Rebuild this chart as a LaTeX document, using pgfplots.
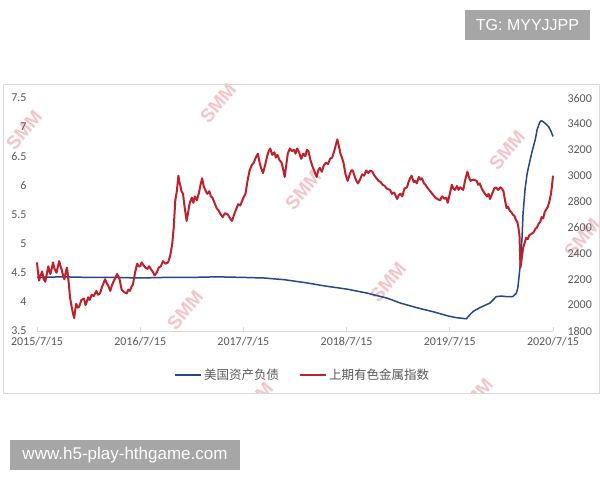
\documentclass[border=0pt]{standalone}
\usepackage{pgfplots}
\pgfplotsset{compat=1.18}
\usepackage{fontspec}
\setmainfont{Carlito}
\newfontfamily\cjk{Noto Sans CJK SC}
\newfontfamily\helv{Liberation Sans}
\definecolor{fedblue}{HTML}{24478A}
\definecolor{smmred}{HTML}{C0202A}
\definecolor{ticktext}{HTML}{595959}
\definecolor{axgray}{HTML}{D9D9D9}
\definecolor{boxgray}{HTML}{A6A6A6}
\definecolor{wm}{HTML}{F5C4CA}

\pgfplotstableread{
t v
0.00 4.42
0.25 4.43
0.50 4.42
0.75 4.42
1.00 4.41
1.25 4.42
1.50 4.42
1.74 4.43
2.00 4.42
2.20 4.41
2.40 4.38
2.60 4.33
2.80 4.27
3.00 4.22
3.20 4.15
3.40 4.06
3.52 3.98
3.68 3.90
3.84 3.83
3.98 3.76
4.06 3.73
4.16 3.71
4.20 3.79
4.23 3.84
4.29 3.90
4.39 3.98
4.45 4.09
4.50 4.10
4.55 4.09
4.61 4.09
4.645 4.15
4.66 4.25
4.68 4.59
4.70 5.10
4.71 5.52
4.73 5.95
4.75 6.21
4.78 6.45
4.80 6.60
4.83 6.80
4.845 6.95
4.87 7.08
4.885 7.11
4.90 7.10
4.92 7.07
4.94 7.04
4.96 7.00
4.98 6.93
5.00 6.84
}\fedtable

\pgfplotstableread{
t v
0.000 2330
0.010 2250
0.020 2190
0.035 2230
0.050 2260
0.065 2200
0.080 2180
0.095 2240
0.110 2300
0.120 2260
0.130 2240
0.145 2290
0.155 2330
0.170 2280
0.190 2250
0.200 2290
0.215 2340
0.228 2300
0.240 2270
0.252 2230
0.265 2200
0.278 2250
0.290 2290
0.300 2230
0.310 2150
0.320 2060
0.335 1990
0.350 1930
0.360 1900
0.370 1960
0.380 2010
0.395 1980
0.410 1990
0.430 2040
0.455 2050
0.470 2000
0.480 2020
0.495 2060
0.510 2040
0.530 2080
0.550 2070
0.575 2110
0.590 2080
0.610 2090
0.630 2140
0.650 2180
0.660 2200
0.675 2170
0.690 2150
0.710 2110
0.725 2150
0.740 2180
0.760 2210
0.775 2240
0.790 2220
0.800 2200
0.810 2160
0.820 2120
0.845 2100
0.870 2090
0.885 2120
0.900 2110
0.915 2140
0.930 2160
0.950 2250
0.970 2320
0.985 2300
1.000 2300
1.015 2330
1.030 2310
1.050 2290
1.070 2280
1.085 2300
1.095 2290
1.110 2270
1.120 2260
1.140 2230
1.160 2250
1.180 2290
1.200 2300
1.220 2340
1.245 2320
1.270 2330
1.290 2380
1.310 2470
1.325 2600
1.340 2810
1.355 2880
1.370 3000
1.380 2950
1.390 2920
1.400 2880
1.415 2860
1.430 2760
1.450 2650
1.465 2720
1.480 2790
1.500 2830
1.515 2790
1.530 2840
1.550 2810
1.570 2870
1.585 2930
1.600 2980
1.615 2920
1.630 2890
1.650 2860
1.670 2880
1.685 2840
1.700 2830
1.720 2790
1.740 2750
1.760 2730
1.780 2700
1.800 2680
1.820 2710
1.850 2700
1.870 2670
1.890 2650
1.910 2700
1.930 2740
1.950 2780
1.970 2770
2.000 2830
2.020 2860
2.040 2960
2.060 3040
2.080 3080
2.100 3100
2.120 3140
2.140 3170
2.160 3090
2.175 3050
2.190 3020
2.210 3080
2.230 3150
2.245 3190
2.260 3210
2.280 3160
2.300 3180
2.315 3140
2.330 3160
2.350 3120
2.370 3100
2.385 3050
2.400 2990
2.415 3080
2.430 3170
2.450 3210
2.470 3190
2.490 3200
2.505 3170
2.520 3210
2.540 3180
2.560 3130
2.580 3170
2.600 3150
2.615 3200
2.630 3190
2.650 3120
2.670 3070
2.690 3030
2.710 2990
2.725 3040
2.740 3060
2.760 3030
2.780 3080
2.800 3100
2.820 3090
2.840 3130
2.860 3140
2.880 3190
2.900 3250
2.910 3280
2.925 3230
2.940 3170
2.955 3140
2.970 3100
2.990 3010
3.010 2960
3.030 3010
3.045 3040
3.060 3040
3.080 2990
3.095 2960
3.110 2940
3.130 2970
3.150 3010
3.170 3000
3.190 3040
3.210 3020
3.230 3040
3.250 3030
3.270 3000
3.290 2980
3.310 2960
3.330 2950
3.350 2930
3.370 2920
3.390 2900
3.420 2890
3.440 2860
3.460 2870
3.490 2820
3.505 2850
3.520 2860
3.540 2840
3.560 2900
3.585 2910
3.600 2950
3.615 2980
3.630 3000
3.650 2950
3.665 2960
3.680 2940
3.700 2990
3.715 2970
3.730 2980
3.750 2940
3.765 2930
3.780 2910
3.800 2890
3.820 2870
3.840 2850
3.860 2830
3.880 2820
3.905 2810
3.925 2840
3.950 2820
3.965 2830
3.980 2790
4.000 2860
4.020 2930
4.035 2900
4.050 2890
4.070 2920
4.085 2890
4.100 2910
4.115 2900
4.130 2890
4.150 2970
4.170 3030
4.185 2990
4.200 2960
4.230 2970
4.260 2960
4.275 2930
4.290 2940
4.310 2900
4.325 2880
4.340 2860
4.360 2840
4.375 2860
4.390 2820
4.410 2860
4.430 2900
4.445 2910
4.470 2890
4.490 2910
4.505 2900
4.520 2880
4.535 2810
4.550 2750
4.565 2760
4.580 2730
4.595 2720
4.610 2700
4.625 2690
4.640 2660
4.655 2640
4.665 2600
4.675 2540
4.685 2290
4.695 2350
4.710 2440
4.725 2480
4.740 2520
4.755 2510
4.770 2540
4.790 2550
4.810 2560
4.830 2590
4.845 2600
4.860 2630
4.875 2640
4.890 2680
4.905 2670
4.920 2720
4.935 2740
4.950 2760
4.965 2800
4.980 2860
4.990 2920
5.000 3000
}\metaltable

\begin{document}
\begin{tikzpicture}
\fill[white] (0pt,0pt) rectangle (600pt,480pt);
% watermarks, clipped to the chart area
\begin{scope}
\clip (3pt,396pt) rectangle (599pt,87pt);
\foreach \wx/\wy in {24/130, 218/103, 303/190, 507/150, 388/282, 185/310, 582/238, 255/402, 475/398}{
  \node[rotate=50, text=wm, font=\helv\bfseries\fontsize{19}{19}\selectfont, inner sep=0pt] at (\wx pt,480pt-\wy pt) {SMM};
}
\end{scope}
\draw[axgray, line width=0.8pt] (3pt,396pt) rectangle (599pt,87pt);
\begin{axis}[
  at={(37pt,149pt)}, anchor=south west,
  width=516pt, height=233pt, scale only axis,
  xmin=0, xmax=5, ymin=3.5, ymax=7.5,
  axis x line*=bottom, axis y line*=left,
  x axis line style={-, axgray, line width=0.8pt},
  y axis line style={draw=none},
  xtick={0,1,2,3,4,5},
  xticklabels={2015/7/15,2016/7/15,2017/7/15,2018/7/15,2019/7/15,2020/7/15},
  ytick={3.5,4,4.5,5,5.5,6,6.5,7,7.5},
  yticklabels={3.5,4,4.5,5,5.5,6,6.5,7,7.5},
  tick align=inside, major tick length=4pt,
  xtick style={axgray, line width=0.8pt},
  ytick style={draw=none},
  tick label style={font=\fontsize{12}{14}\selectfont, text=ticktext},
  yticklabel style={xshift=-7pt},
  xticklabel style={yshift=-3pt},
  clip=false,
]
\addplot[fedblue, line width=1.5pt, line join=round] table[x=t,y=v] {\fedtable};
\end{axis}
\begin{axis}[
  at={(37pt,149pt)}, anchor=south west,
  width=516pt, height=233pt, scale only axis,
  xmin=0, xmax=5, ymin=1800, ymax=3600,
  axis x line=none, axis y line*=right,
  y axis line style={draw=none},
  ytick={1800,2000,2200,2400,2600,2800,3000,3200,3400,3600},
  yticklabels={1800,2000,2200,2400,2600,2800,3000,3200,3400,3600},
  ytick style={draw=none},
  tick label style={font=\fontsize{12}{14}\selectfont, text=ticktext},
  yticklabel style={xshift=11pt},
  clip=false,
  legend style={at={(0.515,-0.19)}, anchor=center, draw=none, fill=none,
    font=\cjk\fontsize{12.5}{14}\selectfont, text=ticktext,
    /tikz/every even column/.append style={column sep=18pt}},
  legend columns=2,
  legend image code/.code={\draw[#1, line width=2pt] (0pt,0pt) -- (26pt,0pt);},
]
\addlegendimage{fedblue}
\addlegendentry{美国资产负债}
\addplot[smmred, line width=2pt, line join=round] table[x=t,y=v] {\metaltable};
\addlegendentry{上期有色金属指数}
\end{axis}
% overlay boxes
\fill[boxgray] (465pt,470pt) rectangle (590pt,440pt);
\node[text=white, font=\helv\fontsize{16}{16}\selectfont] at (527.5pt,455pt) {TG: MYYJJPP};
\fill[boxgray] (10pt,40pt) rectangle (240pt,10pt);
\node[text=white, font=\helv\fontsize{17}{17}\selectfont] at (125pt,25pt) {www.h5-play-hthgame.com};
\end{tikzpicture}
\end{document}
